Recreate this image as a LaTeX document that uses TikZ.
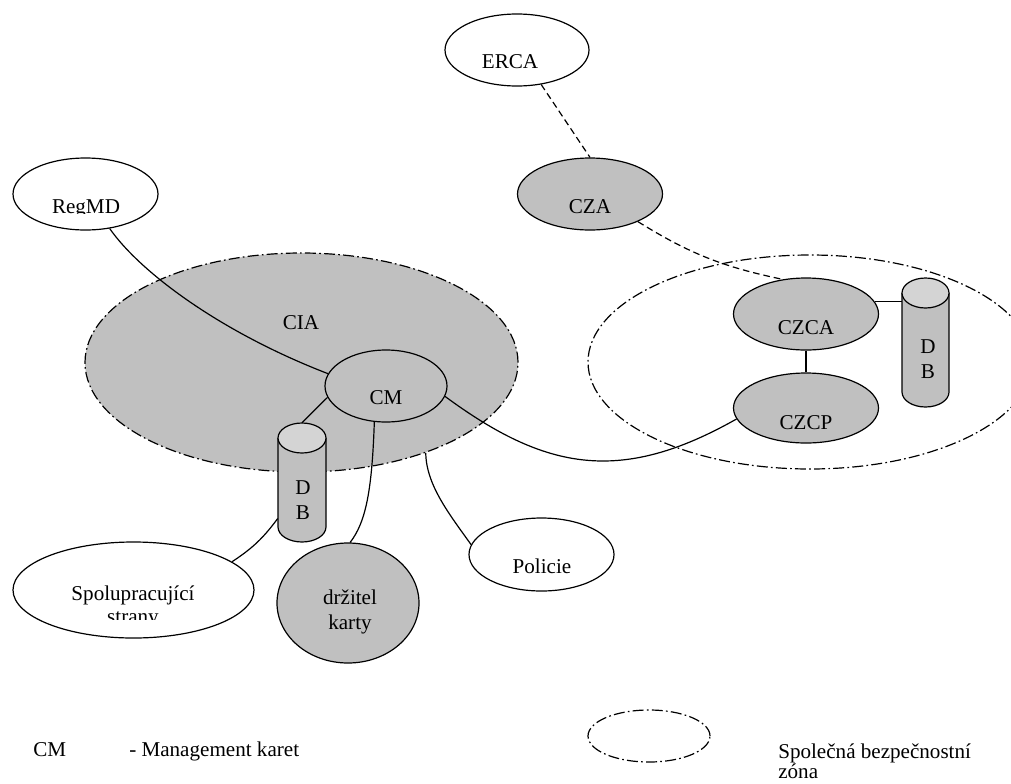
\documentclass[tikz,border=0pt]{standalone}
\usepackage{fontspec}
\setmainfont{Liberation Serif}
\usepackage{xcolor}
\usetikzlibrary{shapes.geometric}

\definecolor{zonegray}{HTML}{C0C0C0}
\definecolor{capgray}{HTML}{D4D4D4}

\tikzset{
  ell/.style={ellipse, draw, line width=0.85pt, inner sep=0pt},
  sz/.style 2 args={minimum width=#1*0.025cm, minimum height=#2*0.025cm},
  dashdot/.style={dash pattern=on 7.8pt off 2.3pt on 1.2pt off 2.3pt},
  link/.style={line width=0.85pt},
  dlink/.style={line width=0.85pt, dash pattern=on 4.7pt off 2.8pt},
  dbbox/.style={inner sep=0pt},
  lbl/.style={inner sep=0pt, align=center, font=\fontsize{15}{17.7}\selectfont}
}

\begin{document}
\begin{tikzpicture}[x=0.025cm, y=0.025cm]
    \useasboundingbox (0,0) rectangle (1011,-783);
    \clip (0,0) rectangle (1011,-783);
    % zones
    \node[ell, dashdot, fill=zonegray, sz={433}{219}] (cia) at (301.5,-362.5) {};
    \node[ell, dashdot, sz={444}{214}] (zone) at (810,-362) {};
    % databases
    \filldraw[link, fill=zonegray] (278,-438) -- (278,-527) arc[start angle=180, end angle=360, x radius=24, y radius=15] -- (326,-438);
    \filldraw[link, fill=capgray] (302,-438) ellipse[x radius=24, y radius=15];
    \node[dbbox, sz={48}{119}] (dbl) at (302,-482.5) {};
    \filldraw[link, fill=zonegray] (902,-293) -- (902,-392) arc[start angle=180, end angle=360, x radius=23.5, y radius=15] -- (949,-293);
    \filldraw[link, fill=capgray] (925.5,-293) ellipse[x radius=23.5, y radius=15];
    \node[dbbox, sz={47}{129}] (dbr) at (925.5,-342.5) {};
    % parties
    \node[ell, sz={144}{72}] (erca) at (517,-50) {};
    \node[ell, fill=zonegray, sz={145}{72}] (cza) at (590,-194) {};
    \node[ell, sz={145}{72}] (regmd) at (85.5,-194) {};
    \node[ell, fill=zonegray, sz={122}{72}] (cm) at (386,-386) {};
    \node[ell, fill=zonegray, sz={145}{72}] (czca) at (806,-314) {};
    \node[ell, fill=zonegray, sz={145}{70}] (czcp) at (806,-408) {};
    \node[ell, sz={241}{96}] (spol) at (133.5,-590) {};
    \node[ell, fill=zonegray, sz={142}{120}] (drzitel) at (348,-603) {};
    \node[ell, sz={145}{73}] (policie) at (541.5,-554.5) {};
    % connections
    \draw[dlink] (erca.-55) -- (cza.north);
    \draw[dlink] (cza.-30) to[bend right=10] (czca.124);
    \draw[link] (czca) -- (czcp);
    \draw[link] (czca.10) -- (czca.10 -| dbr.west);
    \draw[link] (regmd.-55) .. controls (140,-272) and (220,-332) .. (cm.168);
    \draw[link] (cm.191) -- (dbl.north);
    \draw[link] (cm.-108) .. controls (372,-490) and (366,-522) .. (drzitel.88);
    \draw[link] (cia.-36) .. controls (426,-485) and (450,-515) .. (policie.172);
    \draw[link] (cm.-10) .. controls (545,-470) and (620,-485) .. (czcp.189);
    \draw[link] (dbl.-124) to[bend left=10] (spol.16);
    % labels
    \node[lbl] (erca-t) at (510,-62) {ERCA};
    \node[lbl] (cza-t) at (590,-207) {CZA};
    \begin{scope}
        \clip (0,-150) rectangle (170,-213.8);
        \node[lbl, anchor=base] (regmd-t) at (86,-213) {RegMD};
    \end{scope}
    \node[lbl] (cia-t) at (301,-323) {CIA};
    \node[lbl] (cm-t) at (386,-398) {CM};
    \node[lbl] (czca-t) at (806,-328) {CZCA};
    \node[lbl] (czcp-t) at (806,-423) {CZCP};
    \node[lbl] (dbl-t) at (303,-500.5) {D\\B};
    \node[lbl] (dbr-t) at (928,-359.5) {D\\B};
    \node[lbl, anchor=base] (spol-t) at (133,-600.5) {Spolupracující};
    \begin{scope}
        \clip (0,-560) rectangle (260,-619);
        \node[lbl, anchor=base] (spol-t2) at (133,-623.5) {strany};
    \end{scope}
    \node[lbl] (drzitel-t) at (350,-612) {držitel\\karty};
    \node[lbl] (policie-t) at (542,-566) {Policie};
    % legend
    \node[lbl, anchor=base west] (leg-cm) at (33,-756.5) {CM};
    \node[lbl, anchor=base west] (leg-cm-t) at (129,-756.5) {- Management karet};
    \node[ell, dashdot, sz={122}{52}] (leg-zone) at (649,-736) {};
    \node[lbl, anchor=base west] (leg-zone-t) at (778,-758) {Společná bezpečnostní};
    \node[lbl, anchor=base west] (leg-zone-t2) at (778,-778.5) {zóna};
\end{tikzpicture}
\end{document}
